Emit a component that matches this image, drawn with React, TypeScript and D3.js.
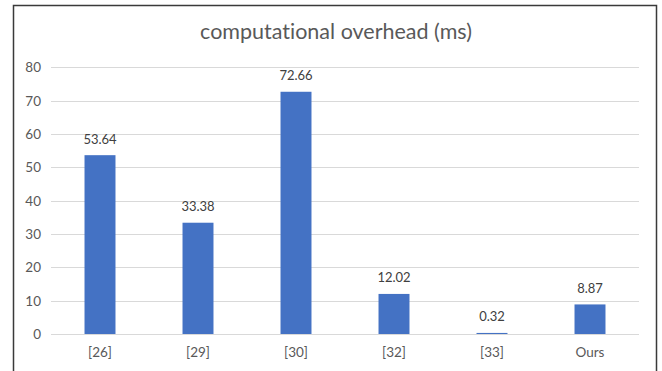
import React from "react";
import * as d3 from "d3";

const categories = ["[26]", "[29]", "[30]", "[32]", "[33]", "Ours"];
const values = [53.64, 33.38, 72.66, 12.02, 0.32, 8.87];
const yTicks = [0, 10, 20, 30, 40, 50, 60, 70, 80];
const title = "computational overhead (ms)";

export default function App() {
  const W = 662, H = 371;
  const left = 51, right = 639, top = 67.3, bottom = 334;
  const x = d3.scaleBand<string>().domain(categories).range([left, right]).paddingInner(0.684).paddingOuter(0.342);
  const y = d3.scaleLinear().domain([0, 80]).range([bottom, top]);
  const font = "Lato, 'Open Sans', sans-serif";
  const noLig = { fontVariantLigatures: "none" } as React.CSSProperties;
  return (
    <svg width={W} height={H} style={{ position: "fixed", left: 0, top: 0 }}>
      <rect x={0} y={0} width={W} height={H} fill="#fff" />
      <path d={`M13.5,${H} V5.5 H656.5 V${H}`} fill="none" stroke="#3a3a3a" strokeWidth={1.5} />
      <text x={336} y={39} textAnchor="middle" fontFamily={font} fontSize={21.5} fill="#595959" style={noLig}>{title}</text>
      {yTicks.map((t) => (
        <g key={t}>
          <line x1={left} x2={right} y1={Math.round(y(t)) + 0.5} y2={Math.round(y(t)) + 0.5} stroke="#d9d9d9" strokeWidth={1} />
          <text x={41} y={y(t) + 5} textAnchor="end" fontFamily={font} fontSize={13.5} fill="#595959">{t}</text>
        </g>
      ))}
      {categories.map((c, i) => (
        <g key={c}>
          <rect x={x(c)} y={y(values[i])} width={x.bandwidth()} height={bottom - y(values[i])} fill="#4472c4" />
          <text x={(x(c) as number) + x.bandwidth() / 2} y={y(values[i]) - 4.5} textAnchor="middle" dy={-7} fontFamily={font} fontSize={13} fill="#404040">{values[i].toFixed(2)}</text>
          <text x={(x(c) as number) + x.bandwidth() / 2} y={356.5} textAnchor="middle" fontFamily={font} fontSize={13.5} fill="#595959">{c}</text>
        </g>
      ))}
    </svg>
  );
}
